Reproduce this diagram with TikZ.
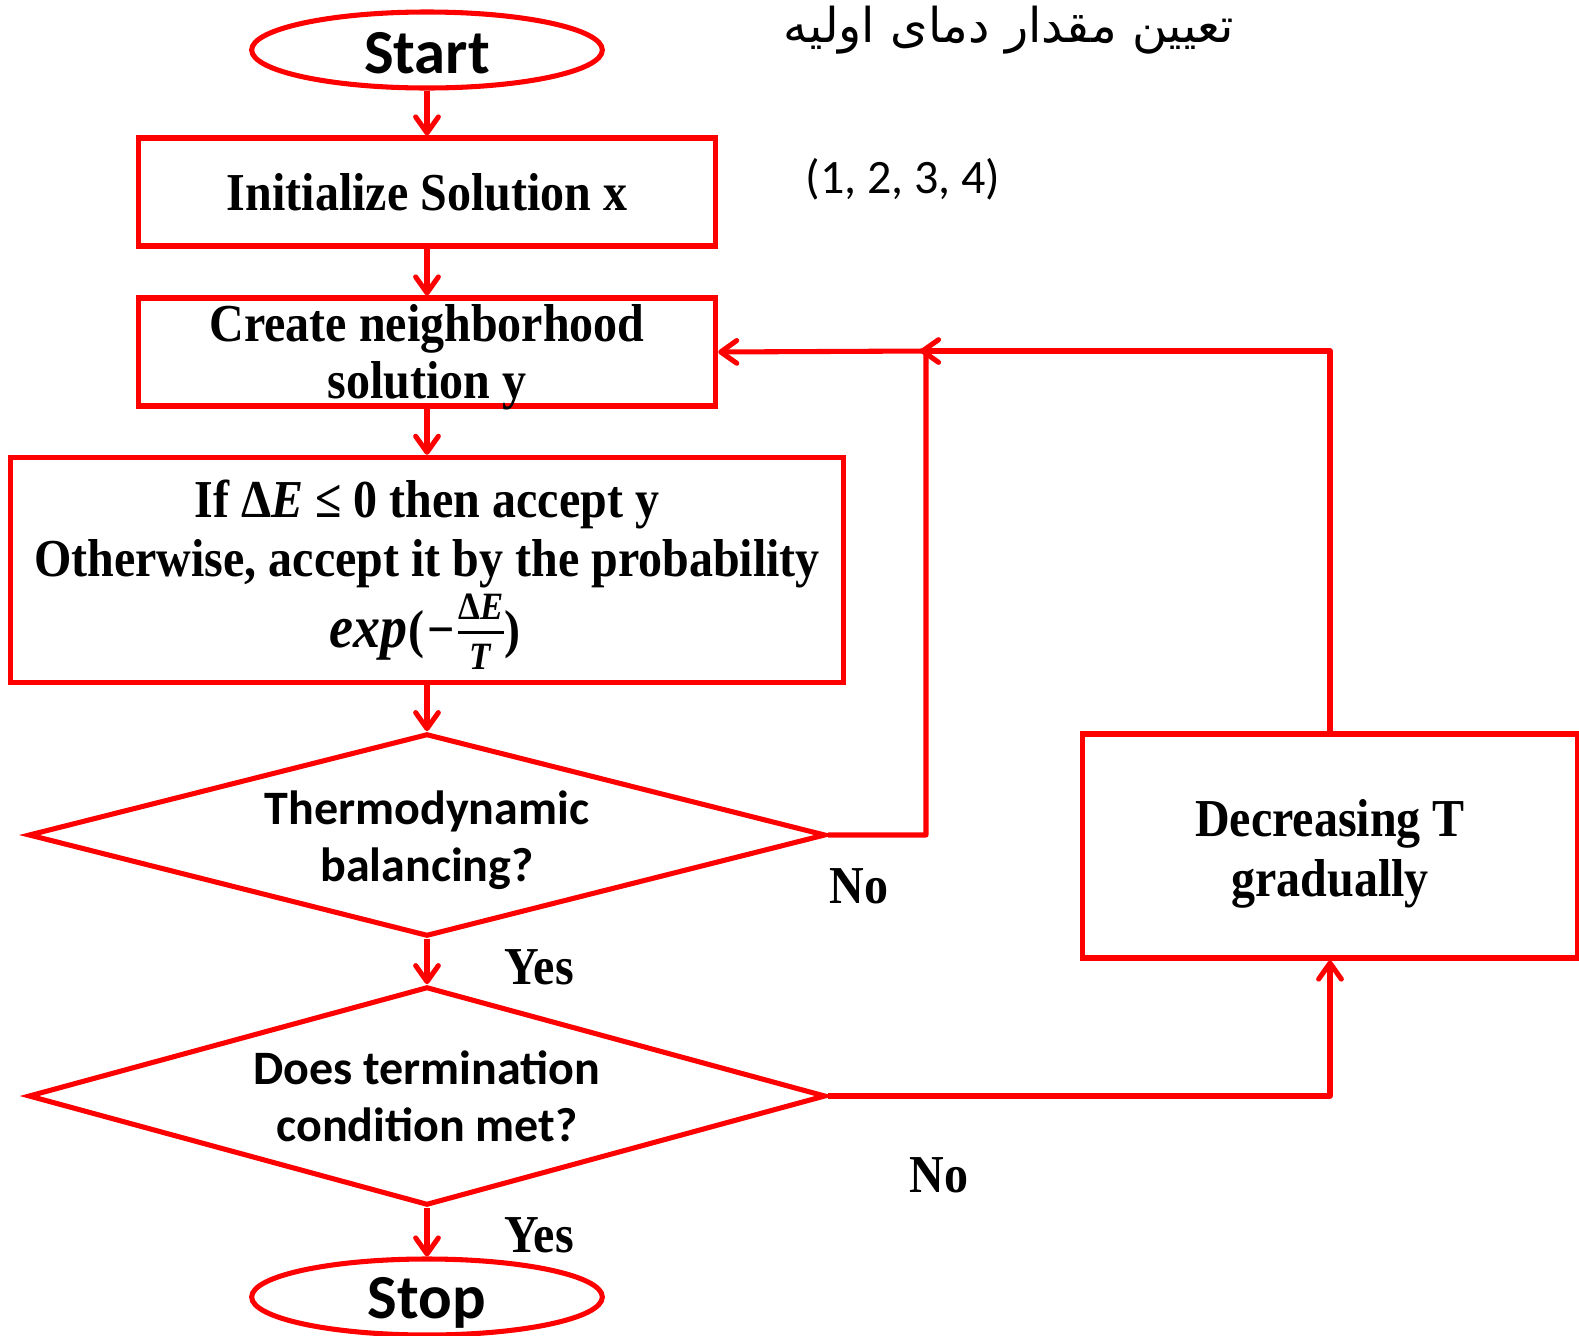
\documentclass[tikz,border=0pt]{standalone}
\usepackage{fontspec}
\setmainfont{Liberation Serif}[FakeStretch=0.9]
\newfontfamily\calfont{Carlito}
\newfontfamily\arabicfont[Script=Arabic]{DejaVu Sans}
\TeXXeTstate=1
\usetikzlibrary{shapes.geometric,arrows.meta}
\newcommand\myfrac[2]{\raisebox{-17pt}{\vbox{\fontsize{29}{30}\selectfont\bfseries\halign{\hfil##\hfil\cr #1\cr\noalign{\kern9pt\hrule height 1.8pt\kern8pt}#2\cr}}}}
\begin{document}
\begin{tikzpicture}[x=0.75pt,y=-0.75pt,
  ln/.style={red,line width=3.8pt,line join=round},
  arr/.style={ln,-{Straight Barb[length=12pt,width=17pt,line cap=round,line join=round]}},
  boxst/.style={draw=red,line width=3.8pt,rectangle,inner sep=0pt},
  ellst/.style={draw=red,line width=3.8pt,ellipse,inner sep=0pt,minimum width=263pt,minimum height=57pt},
  diast/.style={draw=red,line width=3.8pt,diamond,inner sep=0pt},
  sertxt/.style={inner sep=0pt,align=center,font=\bfseries\fontsize{40}{43}\selectfont},
  caltxt/.style={inner sep=0pt,align=center,font=\calfont\bfseries\fontsize{36}{43}\selectfont},
  eltxt/.style={inner sep=0pt,anchor=base,font=\calfont\bfseries\fontsize{47}{50}\selectfont},
  lbl/.style={font=\bfseries\fontsize{40}{43}\selectfont,inner sep=0pt}]
\useasboundingbox (0,0) rectangle (1579,1336);
% shapes
\node[ellst] (start) at (427,50) {};
\node[boxst,minimum width=433pt,minimum height=81pt] (init) at (427,192) {};
\node[boxst,minimum width=433pt,minimum height=81pt] (create) at (427,352) {};
\node[boxst,minimum width=625pt,minimum height=169pt] (ifb) at (427,570) {};
\node[diast,minimum width=598pt,minimum height=152pt] (thermo) at (427,835) {};
\node[diast,minimum width=598pt,minimum height=164pt] (term) at (427,1096) {};
\node[ellst] (stop) at (427,1297) {};
\node[boxst,minimum width=371pt,minimum height=168pt] (dec) at (1330,846) {};
% texts
\node[eltxt] (startt) at (427,73) {Start};
\node[eltxt] (stopt) at (427,1318) {Stop};
\node[sertxt] (initt) at (427,192) {Initialize Solution x};
\node[sertxt] (createt) at (427,357) {Create neighborhood\\solution y};
\node[sertxt,anchor=base] (if1) at (427,517) {If Δ\textit{E} ≤ 0 then accept y};
\node[sertxt,anchor=base] (if2) at (427,576) {Otherwise, accept it by the probability};
\node[sertxt,anchor=base] (if3) at (425,647) {{\fontsize{45}{45}\selectfont\textit{exp}}\kern1pt(\kern2pt−\kern3pt\myfrac{Δ\textit{E}}{\textit{T}}\kern1pt)};
\node[caltxt] (thermot) at (427,840) {Thermodynamic\\balancing?};
\node[caltxt] (termt) at (427,1096) {Does termination\\condition met?};
\node[sertxt,font=\bfseries\fontsize{40}{44.5}\selectfont] (dect) at (1330,854) {Decreasing T\\gradually};
\node[font=\arabicfont\fontsize{36}{40}\selectfont,inner sep=0pt] (fa) at (1009,30) {\beginR تعیین مقدار دمای اولیه\endR};
\node[font=\calfont\fontsize{36}{40}\selectfont,inner sep=0pt] (nums) at (903,179) {(1, 2, 3, 4)};
\node[lbl] (no1) at (859,886) {No};
\node[lbl] (yes1) at (539,967) {Yes};
\node[lbl] (no2) at (939,1175) {No};
\node[lbl] (yes2) at (539,1235) {Yes};
% connectors
\coordinate (j1) at (926,351);
\coordinate (j2) at (920,351);
\draw[arr] (start.south) -- (init.north);
\draw[arr] (init.south) -- (create.north);
\draw[arr] (create.south) -- (ifb.north);
\draw[arr] (ifb.south) -- (thermo.north);
\draw[arr] (thermo.south) -- (term.north);
\draw[arr] (term.south) -- (stop.north);
\draw[arr] (thermo.east) -| (j1) -- (create.east);
\draw[arr] (dec.north) |- (j2);
\draw[arr] (term.east) -| (dec.south);
\end{tikzpicture}
\end{document}
